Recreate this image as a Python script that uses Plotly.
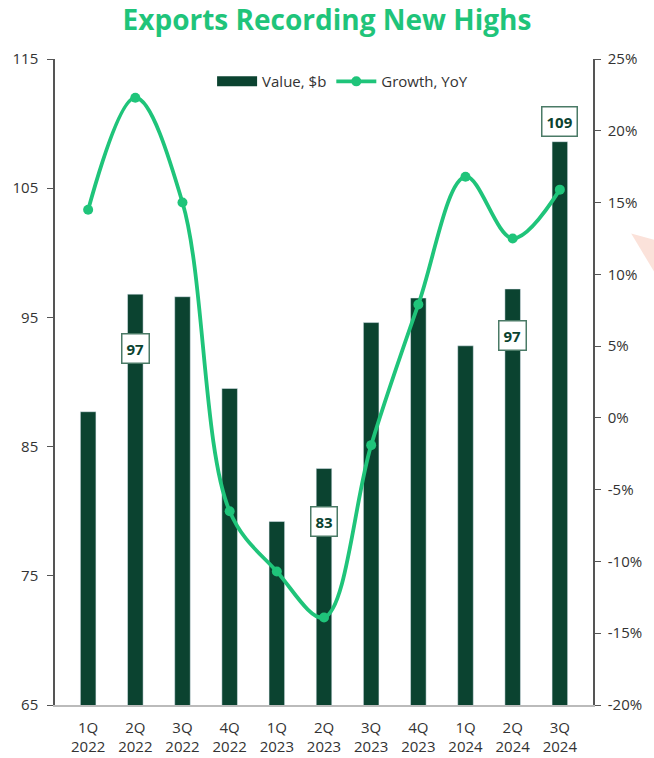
import plotly.graph_objects as go

quarters = ["1Q<br>2022", "2Q<br>2022", "3Q<br>2022", "4Q<br>2022", "1Q<br>2023", "2Q<br>2023",
            "3Q<br>2023", "4Q<br>2023", "1Q<br>2024", "2Q<br>2024", "3Q<br>2024"]
value_b = [87.7, 96.8, 96.6, 89.5, 79.2, 83.3, 94.6, 96.5, 92.8, 97.2, 108.6]
growth_yoy = [14.5, 22.3, 15.0, -6.5, -10.7, -13.9, -1.9, 7.9, 16.8, 12.5, 15.9]
labelled_idx = [1, 5, 9, 10]
label_shift = [-54, -53, -47, 20]

DARK = "#0b4330"
GREEN = "#1fc47a"
AX = "#555555"
TXT = "#333333"
FONT = "Open Sans"

fig = go.Figure()
fig.add_trace(go.Bar(x=quarters, y=value_b, name="Value, $b", marker_color=DARK,
                     width=0.33, yaxis="y", showlegend=False))
# legend entry for bars drawn as wide rectangle swatch
fig.add_trace(go.Scatter(x=[None], y=[None], name="Value, $b", mode="lines",
                         line=dict(color=DARK, width=11), yaxis="y"))
fig.add_trace(go.Scatter(x=quarters, y=growth_yoy, name="Growth, YoY", yaxis="y2",
                         mode="lines+markers", line=dict(color=GREEN, width=3.8, shape="spline", smoothing=1.0),
                         marker=dict(color=GREEN, size=10)))

for i, s in zip(labelled_idx, label_shift):
    fig.add_annotation(x=quarters[i], y=value_b[i], xref="x", yref="y",
                       text="<b>%d</b>" % round(value_b[i]), showarrow=False,
                       yshift=s, font=dict(family=FONT, size=15, color=DARK),
                       bgcolor="white", bordercolor="#4a7a66", borderwidth=1.5, borderpad=4)

# faint pink arrow tip at right edge
fig.add_shape(type="path", xref="paper", yref="paper",
              path="M 1.071 0.73 L 1.114 0.72 L 1.114 0.67 Z",
              fillcolor="#fbe2da", line=dict(width=0), layer="below")

fig.update_layout(
    width=654, height=758,
    margin=dict(l=55, r=61, t=59, b=53, autoexpand=False),
    plot_bgcolor="white", paper_bgcolor="white",
    title=dict(text="<b>Exports Recording New Highs</b>", x=0.5, xanchor="center", y=0.973, yanchor="middle",
               font=dict(family=FONT, size=28, color=GREEN)),
    font=dict(family=FONT, size=15, color=TXT),
    showlegend=True,
    legend=dict(orientation="h", x=0.292, xanchor="left", y=0.965, yanchor="middle",
                font=dict(size=15, color=TXT), bgcolor="rgba(0,0,0,0)",
                traceorder="normal", itemwidth=40),
    xaxis=dict(showline=True, linecolor="#bbbbbb", linewidth=1.5, ticks="", showgrid=False,
               tickfont=dict(size=15, color=TXT), ticklabelstandoff=8, automargin=False),
    yaxis=dict(range=[65, 115], tickvals=[65, 75, 85, 95, 105, 115], showline=True, linecolor=AX,
               linewidth=1.5, ticks="outside", ticklen=6, tickcolor=AX, showgrid=False, zeroline=False,
               tickfont=dict(size=15, color=TXT), ticklabelstandoff=6, automargin=False),
    yaxis2=dict(range=[-20, 25], tickvals=[-20, -15, -10, -5, 0, 5, 10, 15, 20, 25],
                ticktext=["-20%", "-15%", "-10%", "-5%", "0%", "5%", "10%", "15%", "20%", "25%"],
                overlaying="y", side="right", showline=True, linecolor=AX, linewidth=1.5,
                ticks="outside", ticklen=6, tickcolor=AX, showgrid=False, zeroline=False,
                tickfont=dict(size=15, color=TXT), ticklabelstandoff=4, automargin=False),
)

fig.write_html("out.html")
